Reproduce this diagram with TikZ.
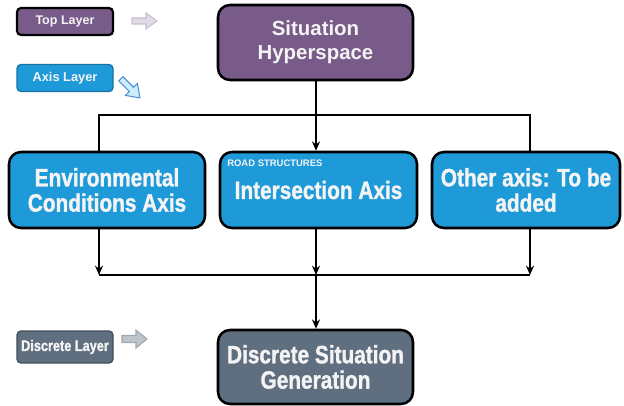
\documentclass[tikz,border=0pt]{standalone}
\usepackage{fontspec}
\setmainfont{Liberation Sans}[BoldFont={Liberation Sans Bold}]
\newfontfamily\narrowf{Liberation Sans}[FakeStretch=0.83, BoldFont={Liberation Sans Bold}, BoldFeatures={FakeStretch=0.83, FakeBold=1.2}]
\usetikzlibrary{arrows.meta}
\definecolor{hyppurple}{HTML}{785B89}
\definecolor{axisblue}{HTML}{1E9AD9}
\definecolor{slate}{HTML}{5F6F80}
\definecolor{txtwhite}{HTML}{F4F4F4}
\tikzset{
  mainbox/.style={draw=black, line width=1.9pt, rounded corners=9pt, text=txtwhite, align=center, inner sep=0pt},
  hypbox/.style={mainbox, fill=hyppurple, minimum width=195*0.75pt, minimum height=75*0.75pt, font=\fontsize{15.3}{18}\selectfont\bfseries},
  axisbox/.style={mainbox, fill=axisblue, minimum height=76*0.75pt, font=\narrowf\fontsize{18.8}{19}\selectfont\bfseries},
  discbox/.style={mainbox, fill=slate, minimum width=195*0.75pt, minimum height=74*0.75pt, font=\narrowf\fontsize{18.8}{19}\selectfont\bfseries},
  legbox/.style={rounded corners=3pt, text=txtwhite, inner sep=0pt, minimum width=96*0.75pt},
  conn/.style={draw=black, line width=1.1pt},
  arr/.style={conn, -{Stealth[length=7pt,width=6pt]}},
  blockarrow/.style={line width=0.8pt}
}
\begin{document}
\begin{tikzpicture}[x=0.75pt,y=-0.75pt]
\useasboundingbox (0,0) rectangle (624,406);
\fill[white] (0,0) rectangle (624,406);

% legend
\node[legbox, fill=hyppurple, draw=black, line width=1.6pt, minimum height=27*0.75pt,
      font=\fontsize{9.4}{11}\selectfont\bfseries] (ltop) at (65,21.5) {Top Layer};
\node[legbox, fill=axisblue, draw=axisblue!75!black, line width=1pt, minimum height=27*0.75pt,
      font=\fontsize{9.6}{11}\selectfont\bfseries] (laxis) at (65,78) {Axis Layer};
\node[legbox, fill=slate, draw=slate!70!black, line width=1pt, minimum height=32*0.75pt,
      font=\narrowf\fontsize{11.5}{12}\selectfont\bfseries] (ldisc) at (65,347) {Discrete Layer};

% block arrows
\draw[blockarrow, fill=hyppurple!22, draw=hyppurple!40] (132,18) -- (146,18) -- (146,13) -- (157,21) -- (146,29) -- (146,24) -- (132,24) -- cycle;
\begin{scope}[shift={(130,88)}, rotate=-45]
\draw[blockarrow, fill=cyan!20, draw=cyan!55!blue!70] (-13,-3) -- (2,-3) -- (2,-8.5) -- (14,0) -- (2,8.5) -- (2,3) -- (-13,3) -- cycle;
\end{scope}
\draw[blockarrow, fill=slate!40, draw=slate!60] (122,335.5) -- (136,335.5) -- (136,330) -- (147,339) -- (136,348) -- (136,342.5) -- (122,342.5) -- cycle;

% main nodes
\node[hypbox] (hyp) at (315.5,42.5) {Situation\\Hyperspace};
\node[axisbox, minimum width=196*0.75pt] (env) at (107,190) {Environmental\\Conditions Axis};
\node[axisbox, minimum width=197*0.75pt] (inter) at (318.5,190) {Intersection Axis};
\node[axisbox, minimum width=188*0.75pt] (oth) at (526,190) {Other axis: To be\\added};
\node[anchor=west, text=txtwhite, inner sep=0pt, font=\fontsize{7.1}{8}\selectfont\bfseries] (road) at (227,163) {ROAD STRUCTURES};
\node[discbox] (disc) at (315.5,367) {Discrete Situation\\Generation};

% connector coordinates
\coordinate (tl) at (99,115);
\coordinate (tc) at (316,115);
\coordinate (tr) at (530,115);
\coordinate (bl) at (99,275);
\coordinate (bc) at (316,275);
\coordinate (br) at (530,275);

% top connectors
\draw[arr] (hyp.south -| tc) -- (inter.north -| tc);
\draw[conn] (env.north -| tl) -- (tl) -- (tr) -- (oth.north -| tr);

% bottom connectors
\draw[arr] (env.south -| bl) -- (bl);
\draw[arr] (inter.south -| bc) -- (bc);
\draw[arr] (oth.south -| br) -- (br);
\draw[conn] (bl) -- (br);
\draw[arr] (bc) -- (disc.north -| bc);
\end{tikzpicture}
\end{document}
